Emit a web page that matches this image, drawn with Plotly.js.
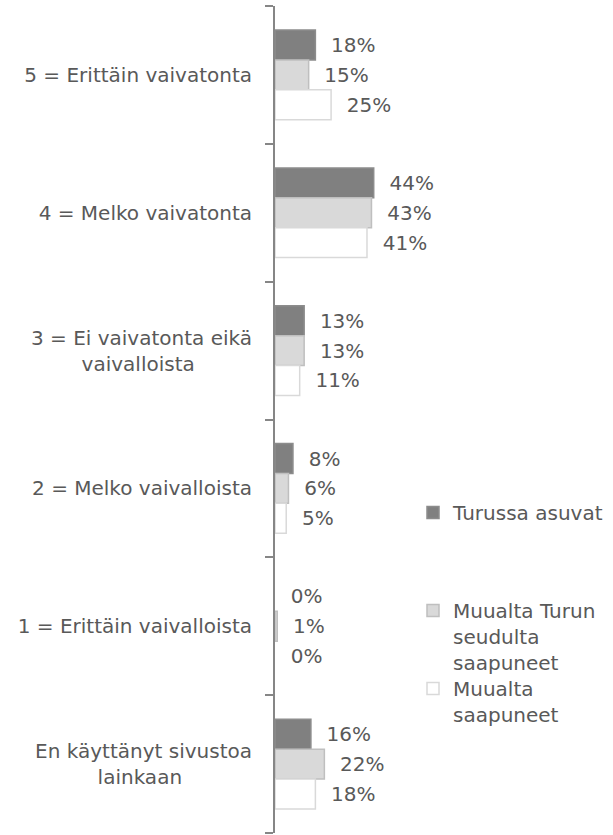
<!DOCTYPE html>
<html>
<head>
<meta charset="utf-8">
<script src="https://cdn.plot.ly/plotly-3.0.1.min.js"></script>
<style>html,body{margin:0;padding:0;background:#fff;}#chart{width:613px;height:835px;}</style>
</head>
<body>
<div id="chart"></div>
<script>
const categories = [
  "5 = Erittäin vaivatonta",
  "4 = Melko vaivatonta",
  "3 = Ei vaivatonta eikä<br>vaivalloista",
  "2 = Melko vaivalloista",
  "1 = Erittäin vaivalloista",
  "En käyttänyt sivustoa<br>lainkaan"
];
const seriesNames = [
  "Turussa asuvat",
  "Muualta Turun<br>seudulta<br>saapuneet",
  "Muualta<br>saapuneet"
];
const turussa = [18, 44, 13, 8, 0, 16];
const turunSeudulta = [15, 43, 13, 6, 1, 22];
const muualta = [25, 41, 11, 5, 0, 18];

const values = [turussa, turunSeudulta, muualta];
const fills = ["#808080", "#d9d9d9", "#ffffff"];
const outlines = ["#8c8c8c", "#bfbfbf", "#d9d9d9"];
const legendIds = ["legend", "legend2", "legend3"];
const FONT = "DejaVu Sans";
const TXT = "#595959";

// second-line centring for two-line tick labels (non-breaking-space padding)
const secondLinePad = [0, 0, 9, 0, 0, 11];
const ticktext = categories.map((c, i) => {
  const parts = c.split("<br>");
  if (parts.length < 2) return c;
  return parts[0] + "<br>" + parts[1] + "\u00a0".repeat(secondLinePad[i]);
});

const traces = values.map((v, i) => ({
  type: "bar",
  orientation: "h",
  name: seriesNames[i],
  y: categories,
  x: v,
  marker: { color: fills[i], line: { color: outlines[i], width: v.map(n => n === 0 ? 0 : 1.5) } },
  text: v.map(n => "\u00a0\u00a0" + n + "%"),
  textposition: "outside",
  cliponaxis: false,
  textfont: { family: FONT, size: 20, color: TXT },
  hoverinfo: "skip",
  legend: legendIds[i]
}));

const legendBase = {
  xref: "container", yref: "container", xanchor: "left", yanchor: "top",
  bgcolor: "rgba(0,0,0,0)", borderwidth: 0, valign: "top",
  font: { family: FONT, size: 20, color: TXT }, itemwidth: 30
};

const layout = {
  width: 613, height: 835,
  margin: { l: 275, r: 163, t: 6, b: 2, autoexpand: false },
  paper_bgcolor: "#ffffff", plot_bgcolor: "#ffffff",
  font: { family: FONT, size: 20, color: TXT },
  barmode: "group",
  bargap: 0.35, bargroupgap: 0,
  showlegend: true,
  xaxis: {
    range: [0, 78], visible: false, showgrid: false, zeroline: false, fixedrange: true
  },
  yaxis: {
    type: "category",
    autorange: "reversed",
    categoryorder: "array", categoryarray: categories,
    tickvals: categories, ticktext: ticktext,
    showline: true, linecolor: "#868686", linewidth: 2,
    ticks: "outside", tickson: "boundaries", ticklen: 8, tickcolor: "#868686", tickwidth: 2,
    ticklabelstandoff: 17,
    showgrid: false, zeroline: false,
    tickfont: { family: FONT, size: 20, color: TXT }
  },
  legend: Object.assign({}, legendBase, { x: 413 / 613, y: 1 - 493 / 835 }),
  legend2: Object.assign({}, legendBase, { x: 413 / 613, y: 1 - 591 / 835 }),
  legend3: Object.assign({}, legendBase, { x: 413 / 613, y: 1 - 669 / 835 })
};

Plotly.newPlot("chart", traces, layout, { displayModeBar: false, staticPlot: true });
</script>
</body>
</html>
